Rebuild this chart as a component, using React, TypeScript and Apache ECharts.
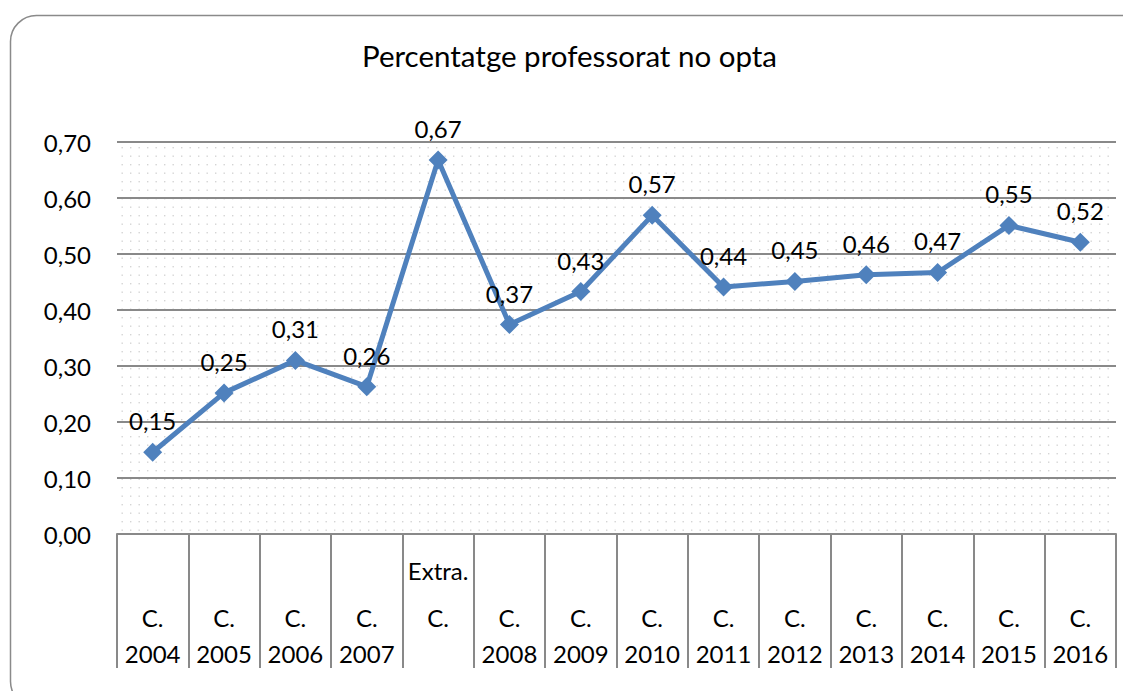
import React, { useEffect, useRef } from "react";
import * as echarts from "echarts";

const TITLE = "Percentatge professorat no opta";
const CATEGORY_TOP = ["", "", "", "", "Extra.", "", "", "", "", "", "", "", "", ""];
const CATEGORY_MID = ["C.", "C.", "C.", "C.", "C.", "C.", "C.", "C.", "C.", "C.", "C.", "C.", "C.", "C."];
const CATEGORY_BOT = ["2004", "2005", "2006", "2007", "", "2008", "2009", "2010", "2011", "2012", "2013", "2014", "2015", "2016"];
const VALUES = [0.146, 0.252, 0.31, 0.263, 0.668, 0.374, 0.433, 0.569, 0.441, 0.451, 0.463, 0.467, 0.551, 0.521];
const Y_MIN = 0;
const Y_MAX = 0.7;
const Y_INTERVAL = 0.1;

const FONT = "Lato, 'Open Sans', sans-serif";

const dotSvg =
  "data:image/svg+xml;charset=utf-8," +
  encodeURIComponent(
    '<svg xmlns="http://www.w3.org/2000/svg" width="17" height="17">' +
      '<rect x="3" y="3" width="1.4" height="1.4" fill="#d4d4d4"/>' +
      '<rect x="11.5" y="3" width="1.4" height="1.4" fill="#d4d4d4"/>' +
      '<rect x="3" y="11.5" width="1.4" height="1.4" fill="#d4d4d4"/>' +
      '<rect x="11.5" y="11.5" width="1.4" height="1.4" fill="#d4d4d4"/>' +
      "</svg>"
  );

export default function App() {
  const ref = useRef<HTMLDivElement>(null);
  useEffect(() => {
    if (!ref.current) return;
    const chart = echarts.init(ref.current, null, { renderer: "svg" });
    const cats = CATEGORY_MID.map((_, i) => String(i));
    const img = new Image();
    img.src = dotSvg;
    chart.setOption({
      animation: false,
      backgroundColor: "#ffffff",
      title: {
        text: TITLE,
        left: "center",
        top: 29,
        padding: 0,
        textStyle: { fontFamily: FONT, fontSize: 29.5, fontWeight: "normal", color: "#000", lineHeight: 36 },
      },
      graphic: [
        {
          type: "rect",
          left: 0,
          top: 5,
          shape: { x: 0, y: 0, width: 1145, height: 692, r: 26 },
          style: { fill: "none", stroke: "#8a8a8a", lineWidth: 1.5 },
          silent: true,
          z: -1,
        },
      ],
      grid: {
        left: 109,
        right: 15,
        top: 134,
        bottom: 157,
        show: true,
        borderWidth: 0,
        backgroundColor: { image: img, repeat: "repeat" } as any,
      },
      xAxis: {
        type: "category",
        data: cats,
        boundaryGap: true,
        axisLine: { show: true, lineStyle: { color: "#898989", width: 2 } },
        axisTick: { show: true, length: 134, lineStyle: { color: "#898989", width: 2 } },
        axisLabel: {
          interval: 0,
          margin: 7,
          formatter: (v: string) => {
            const i = Number(v);
            const top = CATEGORY_TOP[i] || " ";
            const bot = CATEGORY_BOT[i] || " ";
            return `{a|${top}}\n{b|${CATEGORY_MID[i]}}\n{b|${bot}}`;
          },
          rich: {
            a: { lineHeight: 58, fontSize: 24, fontFamily: FONT, color: "#000" },
            b: { lineHeight: 36, fontSize: 24, fontFamily: FONT, color: "#000" },
          },
        },
        splitLine: { show: false },
      },
      yAxis: {
        type: "value",
        min: Y_MIN,
        max: Y_MAX,
        interval: Y_INTERVAL,
        axisLine: { show: false },
        axisTick: { show: false },
        axisLabel: {
          margin: 26,
          fontSize: 24,
          fontFamily: FONT,
          color: "#000",
          formatter: (v: number) => v.toFixed(2).replace(".", ","),
        },
        splitLine: { show: true, lineStyle: { color: "#898989", width: 2 } },
      },
      series: [
        {
          type: "line",
          data: VALUES,
          symbol: "diamond",
          symbolSize: 19,
          lineStyle: { color: "#4f81bd", width: 5 },
          itemStyle: { color: "#4f81bd" },
          label: {
            show: true,
            position: "top",
            distance: 10,
            fontSize: 24,
            fontFamily: FONT,
            color: "#000",
            formatter: (p: any) => Number(p.value).toFixed(2).replace(".", ","),
          },
        },
      ],
    });
    return () => chart.dispose();
  }, []);
  return <div ref={ref} style={{ width: 1123, height: 683 }} />;
}
